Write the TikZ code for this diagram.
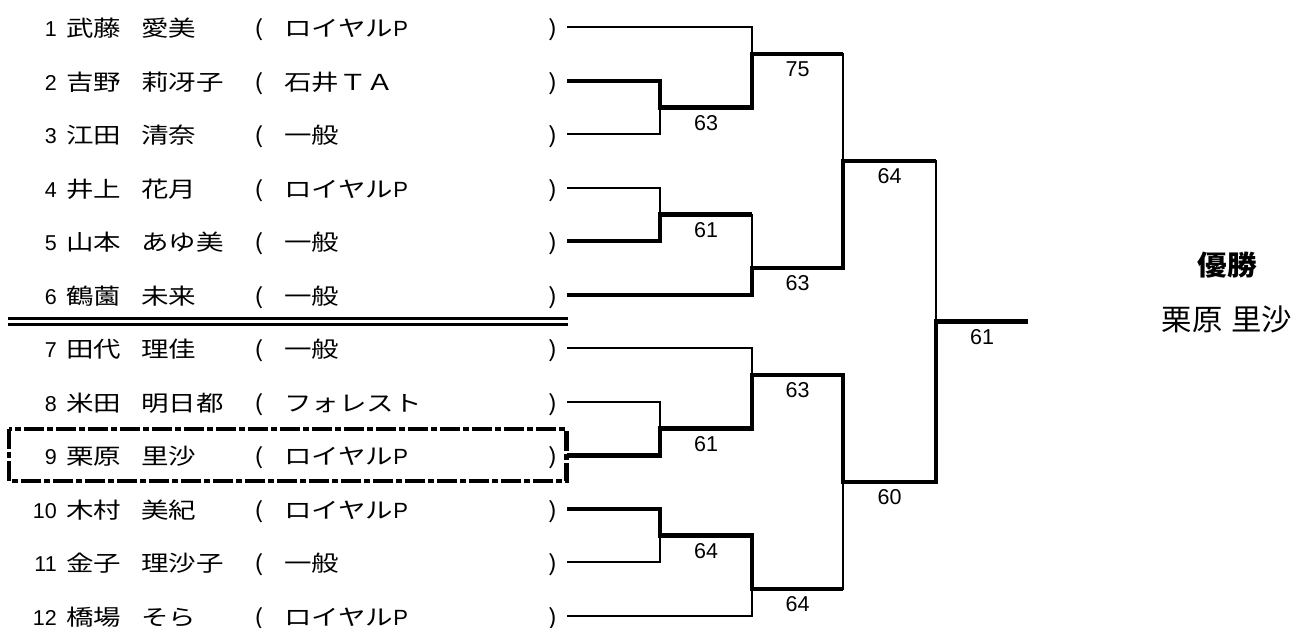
\documentclass[tikz,border=0pt]{standalone}
\usepackage{fontspec}
\usetikzlibrary{calc}
\newfontfamily\jpn[FakeStretch=1.25]{Noto Sans CJK JP}
\newfontfamily\jpr[FakeStretch=1.03]{Noto Sans CJK JP}
\newfontfamily\jpb[FakeStretch=1.08]{Noto Sans CJK JP}
\newfontfamily\lat{Liberation Sans}
\newcommand\royalp{ロイヤル{\lat P}}
\begin{document}
\begin{tikzpicture}[x=1pt,y=-1pt,
  thinln/.style={line width=2pt, line join=miter},
  win/.style={line width=4.4pt, line join=miter},
  num/.style={anchor=base east, inner sep=0pt, font=\lat\fontsize{21.5}{22}\selectfont},
  jtxt/.style={anchor=base west, inner sep=0pt, font=\jpn\fontsize{22}{22}\selectfont},
  score/.style={anchor=north, inner sep=0pt, font=\lat\fontsize{21.5}{22}\selectfont}]
\useasboundingbox (0,0) rectangle (1302,628);
% entries
\foreach \i/\su/\gi/\cl in {1/武藤/愛美/\royalp, 2/吉野/莉冴子/石井ＴＡ, 3/江田/清奈/一般,
  4/井上/花月/\royalp, 5/山本/あゆ美/一般, 6/鶴薗/未来/一般, 7/田代/理佳/一般,
  8/米田/明日都/フォレスト, 9/栗原/里沙/\royalp, 10/木村/美紀/\royalp,
  11/金子/理沙子/一般, 12/橋場/そら/\royalp}{
  \pgfmathsetmacro{\yy}{27.3+53.5*(\i-1)}
  \pgfmathsetmacro{\yb}{\yy+9.3}
  \node[num] (n\i) at (57,\yb) {\i};
  \node[jtxt] (s\i) at (66,\yb) {\su};
  \node[jtxt] (g\i) at (141,\yb) {\gi};
  \node[jtxt] (o\i) at (254,\yb) {(};
  \node[jtxt] (c\i) at (284,\yb) {\cl};
  \node[jtxt] (p\i) at (548,\yb) {)};
  \coordinate (r\i) at (567,\yy);
}
% separator and highlight box
\draw[line width=3pt] (8,318.3) -- (568,318.3);
\draw[line width=3pt] (8,324.6) -- (568,324.6);
\draw[line width=4.5pt, dash pattern=on 20pt off 3pt on 6pt off 3pt] (9,429) rectangle (566.5,481);
% match points
\coordinate (A) at (660,107.55);
\coordinate (B) at (660,214.55);
\coordinate (C) at (660,428.55);
\coordinate (D) at (660,535.55);
\coordinate (E) at (752,54.05);
\coordinate (F) at (752,268.05);
\coordinate (G) at (752,375.05);
\coordinate (H) at (752,589.05);
\coordinate (I) at (843,161.05);
\coordinate (J) at (843,482.05);
\coordinate (K) at (936,321.55);
\coordinate (W) at (1028,321.55);
% thin skeleton
\draw[thinln] (r2) -| (A); \draw[thinln] (r3) -| (A);
\draw[thinln] (r1) -| (E); \draw[thinln] (A) -| (E);
\draw[thinln] (r4) -| (B); \draw[thinln] (r5) -| (B);
\draw[thinln] (B) -| (F); \draw[thinln] (r6) -| (F);
\draw[thinln] (E) -| (I); \draw[thinln] (F) -| (I);
\draw[thinln] (r7) -| (G); \draw[thinln] (r8) -| (C); \draw[thinln] (r9) -| (C);
\draw[thinln] (C) -| (G);
\draw[thinln] (r10) -| (D); \draw[thinln] (r11) -| (D);
\draw[thinln] (D) -| (H); \draw[thinln] (r12) -| (H);
\draw[thinln] (G) -| (J); \draw[thinln] (H) -| (J);
\draw[thinln] (I) -| (K); \draw[thinln] (J) -| (K);
\draw[thinln] (K) -- (W);
% winners
\draw[win] (r2) -| (A) -| (E) -- (E -| I);
\draw[win] (r5) -| (B) -- (B -| F);
\draw[win] (r6) -| (F) -| (I) -- (I -| K);
\draw[win] (r9) -| (C) -| (G) -| (J) -| (K) -- (W);
\draw[win] (r10) -| (D) -| (H) -- (H -| J);
% scores
\node[score] (sA) at ([yshift=-7.5pt]$(A)!0.5!(A -| E)$) {63};
\node[score] (sB) at ([yshift=-7.5pt]$(B)!0.5!(B -| F)$) {61};
\node[score] (sC) at ([yshift=-7.5pt]$(C)!0.5!(C -| G)$) {61};
\node[score] (sD) at ([yshift=-7.5pt]$(D)!0.5!(D -| H)$) {64};
\node[score] (sE) at ([yshift=-7.5pt]$(E)!0.5!(E -| I)$) {75};
\node[score] (sF) at ([yshift=-7.5pt]$(F)!0.5!(F -| I)$) {63};
\node[score] (sG) at ([yshift=-7.5pt]$(G)!0.5!(G -| J)$) {63};
\node[score] (sH) at ([yshift=-7.5pt]$(H)!0.5!(H -| J)$) {64};
\node[score] (sI) at ([yshift=-7.5pt]$(I)!0.5!(I -| K)$) {64};
\node[score] (sJ) at ([yshift=-7.5pt]$(J)!0.5!(J -| K)$) {60};
\node[score] (sK) at ([yshift=-7.5pt]$(K)!0.5!(W)$) {61};
% champion
\node[anchor=base, inner sep=0pt, font=\jpb\bfseries\fontsize{27.5}{28}\selectfont] (yusho) at (1227,276) {優勝};
\node[anchor=base, inner sep=0pt, font=\jpr\fontsize{29.5}{30}\selectfont] (champ) at (1227,331) {栗原\hspace{0.3em}里沙};
\end{tikzpicture}
\end{document}
